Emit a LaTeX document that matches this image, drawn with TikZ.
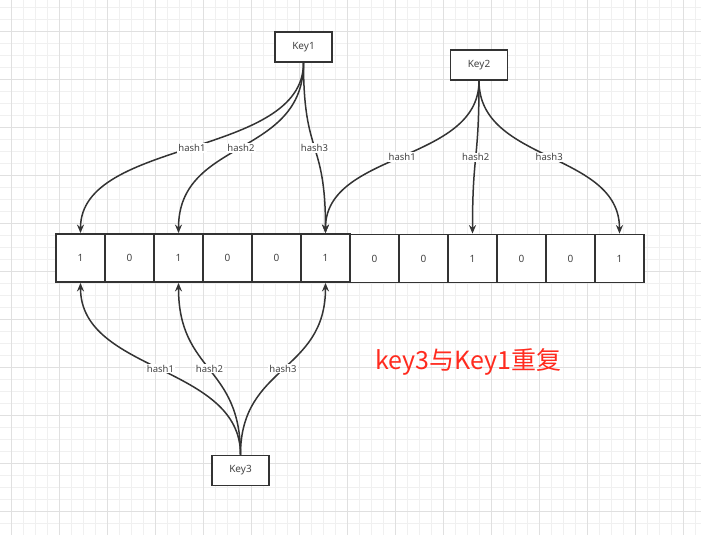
\documentclass[tikz,border=0pt]{standalone}
\usepackage{fontspec}
\setmainfont{Noto Sans}
\newfontfamily\cjk{Noto Sans CJK SC}
\usetikzlibrary{arrows.meta}
\definecolor{gridminor}{HTML}{F0F0F0}
\definecolor{gridmajor}{HTML}{E0E0E0}
\definecolor{ink}{HTML}{333333}
\definecolor{txt}{HTML}{444444}
\definecolor{redtxt}{HTML}{FF2B1F}
\begin{document}
\begin{tikzpicture}[x=1pt,y=-1pt,
  cell/.style={draw=ink, fill=white, line width=1.8pt, minimum width=49pt, minimum height=48pt, inner sep=0pt, text=txt, font=\fontsize{10}{12}\selectfont},
  keybox/.style={draw=ink, line width=1.8pt, fill=white, minimum width=57pt, minimum height=30pt, inner sep=0pt, text=txt, font=\fontsize{10}{12}\selectfont},
  link/.style={draw=ink, line width=1.5pt, -{Stealth[length=8.5pt,width=7pt]}},
  lbl/.style={fill=white, inner sep=1pt, text=txt, font=\fontsize{9.5}{11}\selectfont},
  gmin/.style={draw=gridminor, line width=1pt},
  gmaj/.style={draw=gridmajor, line width=1pt}]
\useasboundingbox (0,0) rectangle (701,535);
\fill[white] (0,0) rectangle (701,535);
% grid
\foreach \i in {0,...,57} \draw[gmin] ({11.3+12*\i},0) -- ({11.3+12*\i},535);
\foreach \j in {0,...,44} \draw[gmin] (0,{7.3+12*\j}) -- (701,{7.3+12*\j});
\foreach \i in {0,...,14} \draw[gmaj] ({11.3+48*\i},0) -- ({11.3+48*\i},535);
\foreach \j in {0,...,10} \draw[gmaj] (0,{31.3+48*\j}) -- (701,{31.3+48*\j});
% cells
\foreach \i/\v in {1/1,2/0,3/1,4/0,5/0,6/1}
  \node[cell] (c\i) at ({31.5+49*\i},258) {\v};
\foreach \i/\v in {7/0,8/0,9/1,10/0,11/0,12/1}
  \node[cell] (c\i) at ({31.5+49*\i},258.5) {\v};
% keys
\node[keybox] (k1) at (303.5,47) {Key1};
\node[keybox] (k2) at (479,65) {Key2};
\node[keybox] (k3) at (240.5,470.5) {Key3};
% Key1 edges
\draw[link] (k1.south) .. controls +(0,95) and +(0,-95) .. node[lbl,midway]{hash1} (c1.north);
\draw[link] (k1.south) .. controls +(0,95) and +(0,-95) .. node[lbl,midway]{hash2} (c3.north);
\draw[link] (k1.south) .. controls +(0,95) and +(0,-95) .. node[lbl,midway]{hash3} (c6.north);
% Key2 edges
\draw[link] (k2.south) .. controls +(0,82) and +(0,-82) .. node[lbl,midway]{hash1} (c6.north);
\draw[link] (k2.south) .. controls +(0,82) and +(0,-82) .. node[lbl,midway]{hash2} (c9.north);
\draw[link] (k2.south) .. controls +(0,82) and +(0,-82) .. node[lbl,midway]{hash3} (c12.north);
% Key3 edges
\draw[link] (k3.north) .. controls +(0,-90) and +(0,90) .. node[lbl,midway]{hash1} (c1.south);
\draw[link] (k3.north) .. controls +(0,-90) and +(0,90) .. node[lbl,midway]{hash2} (c3.south);
\draw[link] (k3.north) .. controls +(0,-90) and +(0,90) .. node[lbl,midway]{hash3} (c6.south);
% note
\node[anchor=base, text=redtxt, font=\cjk\fontsize{25}{30}\selectfont, inner sep=0pt] (note) at (468,369.5) {key3与Key1重复};
\end{tikzpicture}
\end{document}
